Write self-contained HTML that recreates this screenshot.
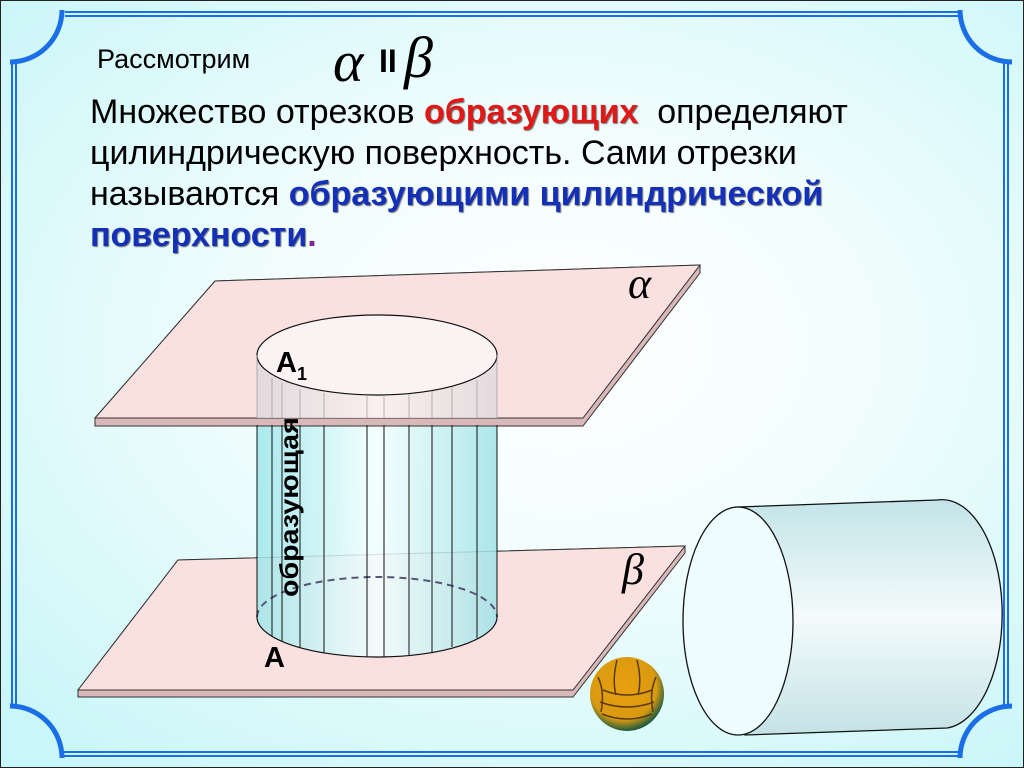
<!DOCTYPE html>
<html><head><meta charset="utf-8"><style>
html,body{margin:0;padding:0}
body{width:1024px;height:768px;overflow:hidden;position:relative;
background:radial-gradient(ellipse 75% 70% at 55% 45%,#ffffff 0%,#f2fdfd 40%,#c9f6f8 100%);}
.t{position:absolute;font-family:"Liberation Sans",sans-serif;white-space:nowrap;color:#000}
</style></head><body>
<svg width="1024" height="768" style="position:absolute;left:0;top:0">
<defs>
<linearGradient id="cyl" x1="0" x2="1" y1="0" y2="0">
<stop offset="0" stop-color="#9fe6ea"/><stop offset="0.5" stop-color="#f4ffff"/><stop offset="1" stop-color="#9fe2e6"/></linearGradient>
<linearGradient id="cylt" x1="0" x2="1" y1="0" y2="0">
<stop offset="0" stop-color="#d9d9dc"/><stop offset="0.5" stop-color="#faf2f2"/><stop offset="1" stop-color="#dcdadc"/></linearGradient>
<linearGradient id="hc" x1="0" x2="0" y1="0" y2="1">
<stop offset="0" stop-color="#c3e4e8"/><stop offset="0.5" stop-color="#f4fbfb"/><stop offset="1" stop-color="#c3e2e6"/></linearGradient>
<radialGradient id="ball" cx="0.45" cy="0.4" r="0.6">
<stop offset="0" stop-color="#e9a010"/><stop offset="0.75" stop-color="#d99a10"/><stop offset="1" stop-color="#1d5a3e"/></radialGradient>
</defs>
<rect x="0.5" y="0.5" width="1023" height="767" fill="none" stroke="#222" stroke-width="1"/>
<g fill="none" stroke="#1a6ee8">
<path d="M65 12 H958 M65 16 H958 M12 62 V706 M16 62 V706 M1008 62 V706 M1004 62 V706 M62 752 H960 M62 756 H960" stroke-width="2"/>
<path d="M62 10 A52 52 0 0 1 10 62" stroke-width="5"/>
<path d="M960 10 A52 52 0 0 0 1012 62" stroke-width="5"/>
<path d="M10 706 A52 52 0 0 1 62 758" stroke-width="5"/>
<path d="M1012 706 A52 52 0 0 0 960 758" stroke-width="5"/>
</g>
<polygon points="178,560 685,546 685,553 573,697 78,697 78,690" fill="#d8b8b8" stroke="#333" stroke-width="1"/>
<polygon points="178,560 685,546 573,690 78,690" fill="#fbe0e0" stroke="#333" stroke-width="1"/>
<path d="M257 425 V617 A120 40 0 0 0 497 617 V425 Z" fill="url(#cyl)" opacity="0.85"/>
<path d="M257 617 A120 40 0 0 1 497 617" fill="none" stroke="#557" stroke-width="2" stroke-dasharray="7,5"/>
<path d="M257 617 A120 40 0 0 0 497 617" fill="none" stroke="#111" stroke-width="1.2"/>
<polygon points="215,281 700,265 700,273 583,426 95,426 95,418" fill="#d8b8b8" stroke="#333" stroke-width="1"/>
<polygon points="215,281 700,265 583,418 95,418" fill="#fbe0e0" stroke="#333" stroke-width="1"/>
<path d="M257 355 V418 H497 V355 A120 40 0 0 1 257 355 Z" fill="url(#cylt)" opacity="0.8"/>
<ellipse cx="377" cy="355" rx="120" ry="40" fill="#fbf3f3" stroke="#111" stroke-width="1.2"/>
<g stroke="#111" stroke-width="1">
<line x1="257" y1="425" x2="257" y2="617"/><line x1="497" y1="425" x2="497" y2="617"/>
<line x1="272" y1="425" x2="272" y2="636"/><line x1="282" y1="425" x2="282" y2="641"/>
<line x1="300" y1="425" x2="300" y2="648"/><line x1="324" y1="425" x2="324" y2="653"/>
<line x1="367" y1="425" x2="367" y2="657"/><line x1="384" y1="425" x2="384" y2="657"/>
<line x1="409" y1="425" x2="409" y2="656"/><line x1="432" y1="425" x2="432" y2="652"/>
<line x1="452" y1="425" x2="452" y2="647"/><line x1="477" y1="425" x2="477" y2="638"/>
</g>
<g stroke="#999" stroke-width="1" opacity="0.7">
<line x1="257" y1="355" x2="257" y2="418"/><line x1="497" y1="355" x2="497" y2="418"/>
<line x1="272" y1="378" x2="272" y2="418"/><line x1="282" y1="383" x2="282" y2="418"/>
<line x1="300" y1="389" x2="300" y2="418"/><line x1="324" y1="393" x2="324" y2="418"/>
<line x1="367" y1="395" x2="367" y2="418"/><line x1="384" y1="395" x2="384" y2="418"/>
<line x1="409" y1="394" x2="409" y2="418"/><line x1="432" y1="391" x2="432" y2="418"/>
<line x1="452" y1="387" x2="452" y2="418"/><line x1="477" y1="380" x2="477" y2="418"/>
</g>
<path d="M738 507 L937 500 A60 114 0 0 1 947 728 L745 735 Z" fill="url(#hc)" stroke="#111" stroke-width="1.3"/>
<ellipse cx="738" cy="621" rx="55" ry="114" fill="#eefcfd" stroke="#111" stroke-width="1.3"/>
<circle cx="627" cy="694" r="37" fill="url(#ball)"/>
<g fill="none" stroke="#5a3a08" stroke-width="1.5">
<path d="M617 660 Q612 680 616 695"/><path d="M637 660 Q642 680 638 695"/>
<path d="M598 677 Q605 692 601 712"/><path d="M656 677 Q649 692 653 712"/>
<path d="M603 690 Q627 700 652 690"/><path d="M600 702 Q627 712 654 702"/><path d="M602 714 Q627 724 652 714"/>
</g>
</svg>
<div class="t" style="left:97px;top:44px;font-size:27px">Рассмотрим</div>
<div class="t" style="left:333px;top:28px;font-size:58px;font-family:'Liberation Serif',serif;font-style:italic">α</div>
<div class="t" style="left:379px;top:43px;font-size:32px;font-weight:bold">II</div>
<div class="t" style="left:404px;top:24px;font-size:58px;font-family:'Liberation Serif',serif;font-style:italic">β</div>
<div class="t" style="left:90px;top:92px;font-size:34px;line-height:41px">Множество отрезков <b style="color:#e01818;text-shadow:1px 1px 1px #777">образующих</b>&nbsp; определяют<br>цилиндрическую поверхность. Сами отрезки<br>называются <b style="color:#1530b8;text-shadow:1px 1px 1px #777">образующими цилиндрической</b><br><b style="color:#1530b8;text-shadow:1px 1px 1px #777">поверхности</b><b style="color:#7a2a8a">.</b></div>
<div class="t" style="left:628px;top:258px;font-size:44px;font-family:'Liberation Serif',serif;font-style:italic">α</div>
<div class="t" style="left:622px;top:544px;font-size:44px;font-family:'Liberation Serif',serif;font-style:italic">β</div>
<div class="t" style="left:276px;top:347px;font-size:29px;font-weight:bold">A<span style="font-size:18px;position:relative;top:8px">1</span></div>
<div class="t" style="left:264px;top:642px;font-size:29px;font-weight:bold">A</div>
<div class="t" style="left:276px;top:597px;font-size:26px;line-height:26px;font-weight:bold;transform-origin:0 0;transform:rotate(-90deg) scale(1.1,1)">образующая</div>
</body></html>
